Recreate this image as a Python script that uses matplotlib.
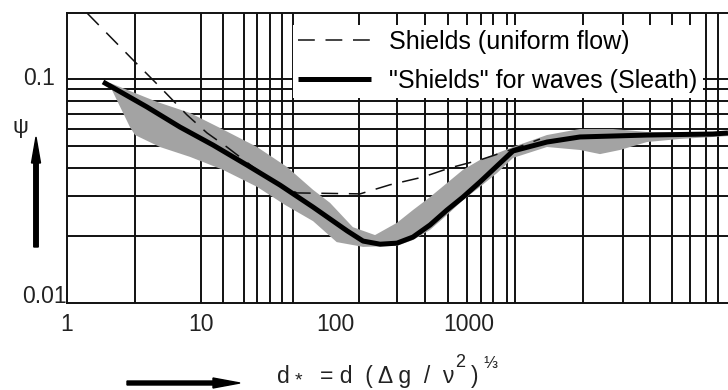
import numpy as np
import matplotlib
matplotlib.use("Agg")
import matplotlib.pyplot as plt
from matplotlib.patches import FancyArrow
from matplotlib.ticker import NullLocator
from matplotlib.transforms import IdentityTransform

plt.rcParams['font.family'] = ['Liberation Sans', 'DejaVu Sans']

# Shields curve for uniform flow (dashed)
shields_x = [1.41, 3.11, 4.94, 7.86, 11.1, 15.6, 24.4, 36.9, 52, 154, 257, 454, 721, 1208, 2024, 3388]
shields_y = [0.197, 0.1216, 0.0921, 0.0691, 0.0574, 0.0497, 0.0405, 0.0343, 0.031, 0.0307,
             0.0337, 0.0365, 0.0401, 0.0435, 0.0482, 0.0539]

# "Shields" for waves (Sleath), thick solid line
sleath_x = [1.857, 3.95, 6.97, 12.3, 22.0, 38.9, 68.6, 123, 162, 217, 290, 382, 512, 685, 902,
            1208, 1618, 2130, 3820, 6735, 21300, 66200, 85700]
sleath_y = [0.097, 0.075, 0.061, 0.0507, 0.0413, 0.0336, 0.0268, 0.021, 0.0189, 0.0183, 0.0185,
            0.0197, 0.0223, 0.026, 0.0297, 0.0347, 0.0409, 0.0477, 0.0523, 0.0551, 0.0562,
            0.0568, 0.0574]

# grey scatter band, upper and lower edges
band_upper_x = [2.094, 4.70, 8.28, 13.9, 26.2, 43.8, 68.6, 91.8, 136, 199, 290, 382, 512, 685,
                902, 1208, 2130, 3820, 6735, 11900, 21300, 66200, 85700]
band_upper_y = [0.096, 0.079, 0.0705, 0.0604, 0.0497, 0.0405, 0.032, 0.028, 0.0218, 0.0201,
                0.0228, 0.026, 0.0297, 0.0343, 0.0393, 0.0435, 0.0497, 0.0562, 0.0598, 0.0598,
                0.058, 0.0574, 0.0574]
band_lower_x = [2.094, 2.95, 3.22, 4.94, 8.28, 14.6, 26.2, 42.4, 68.6, 103, 162, 290, 382, 512,
                685, 902, 1208, 1618, 2130, 3820, 6735, 9500, 13400, 21300, 37600, 66200, 85700]
band_lower_y = [0.0931, 0.061, 0.0562, 0.0497, 0.0449, 0.0393, 0.033, 0.0274, 0.0232, 0.0187,
                0.0178, 0.018, 0.0191, 0.0212, 0.0247, 0.0288, 0.033, 0.038, 0.0444, 0.0497,
                0.0482, 0.0462, 0.0482, 0.0523, 0.054, 0.0551, 0.0556]

# hand-drawn grid of the original figure
grid_x = [3.2, 10, 14.6, 21, 26, 33, 40, 49, 150, 290, 470, 700, 970, 1230, 1510, 1920, 2200,
          7100, 14100, 22400, 32700, 44600, 58700, 72000]
grid_y = [0.02, 0.03, 0.04, 0.05, 0.06, 0.07, 0.08, 0.09, 0.1]

x_ticks = [1, 10, 100, 1000]
x_tick_labels = ['1', '10', '100', '1000']

ink = '#111111'
txt = '#222222'

fig = plt.figure(figsize=(7.28, 3.90), dpi=100)
ax = fig.add_axes([67/728, 87/390, 661/728, 290/390])
ax.set_xscale('log')
ax.set_yscale('log')
ax.set_xlim(1, 85700)
ax.set_ylim(0.01, 0.197)

for gx in grid_x:
    ax.axvline(gx, color=ink, lw=1.4, zorder=1)
for gy in grid_y:
    ax.axhline(gy, color=ink, lw=1.4, zorder=1)

ax.fill(np.concatenate([band_upper_x, band_lower_x[::-1]]),
        np.concatenate([band_upper_y, band_lower_y[::-1]]),
        color='#a3a3a3', lw=0, zorder=2)
ax.plot(shields_x, shields_y, color=ink, lw=1.1, dashes=(11, 7), zorder=3,
        label='Shields (uniform flow)')
ax.plot(sleath_x, sleath_y, color='black', lw=3.6, zorder=4, solid_capstyle='butt',
        label='"Shields" for waves (Sleath)')

for side in ['left', 'top', 'bottom']:
    ax.spines[side].set_linewidth(1.4)
    ax.spines[side].set_color(ink)
ax.spines['right'].set_visible(False)

ax.set_xticks(x_ticks)
ax.set_xticklabels(x_tick_labels)
ax.xaxis.set_minor_locator(NullLocator())
ax.set_yticks([])
ax.yaxis.set_minor_locator(NullLocator())
ax.tick_params(length=0, labelsize=16.5, labelcolor=txt, pad=7)

# y tick labels placed like the original
ax.text(-0.018, 0.1, '0.1', transform=ax.get_yaxis_transform(), ha='right', va='center',
        fontsize=16.5, color=txt)
ax.text(0.0, 0.01, '0.01', transform=ax.get_yaxis_transform(), ha='right', va='baseline',
        fontsize=16.5, color=txt)

ax.legend(loc='upper left', bbox_to_anchor=(293/728, 1 - 25/390), bbox_transform=fig.transFigure,
          frameon=True, fancybox=False, framealpha=1, edgecolor='none', facecolor='white',
          borderpad=0.2, borderaxespad=0, handlelength=2.9, handletextpad=0.75,
          labelspacing=0.6, fontsize=18)

# axis labels with arrows
fig.text(20/728, 1 - 128/390, 'ψ', ha='center', va='center', fontsize=16, color=txt)
fig.add_artist(FancyArrow(36, 390 - 247, 0, 110, width=4.5, head_width=9, head_length=26,
                          length_includes_head=True, color='black', transform=IdentityTransform()))
fig.add_artist(FancyArrow(127, 390 - 383, 113, 0, width=4, head_width=10, head_length=27,
                          length_includes_head=True, color='black', transform=IdentityTransform()))

# x label: d* = d ( Δ g / ν² )^⅓, piece by piece as in the original
fig.text(277/728, 7/390, 'd', ha='left', va='baseline', fontsize=16.5, color=txt)
fig.text(298/728, 0.5/390, '*', ha='center', va='bottom', fontsize=14, color=txt)
fig.text(320/728, 7/390, '= d  (', ha='left', va='baseline', fontsize=16.5, color=txt)
fig.text(378/728, 7/390, 'Δ g  /  ν', ha='left', va='baseline', fontsize=16.5, color=txt)
fig.text(455/728, 23/390, '2', ha='left', va='baseline', fontsize=13, color=txt)
fig.text(471/728, 7/390, ')', ha='left', va='baseline', fontsize=16.5, color=txt)
fig.text(483/728, 22/390, '⅓', ha='left', va='baseline', fontsize=12, color=txt)

fig.savefig('out.png', dpi=100)
